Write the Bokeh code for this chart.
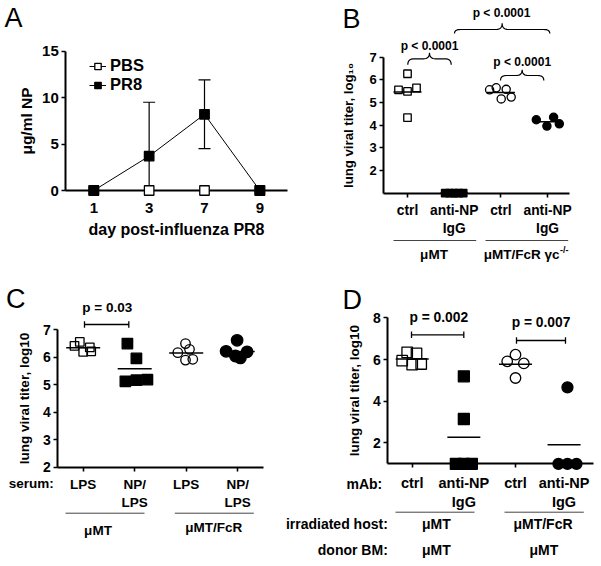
import numpy as np
from bokeh.plotting import figure
from bokeh.models import (Range1d, LinearAxis, FixedTicker, Whisker, TeeHead,
                          ColumnDataSource, Legend, LegendItem)
from bokeh.layouts import row, column
from bokeh.embed import file_html
from bokeh.resources import INLINE
from bokeh.core.properties import value

S = 1.0
FONT = "Liberation Sans"

# ---------------- data ----------------
# Panel A
A_DAYS = ["1", "3", "7", "9"]
A_PBS = [0.0, 0.0, 0.0, 0.0]
A_PR8 = [0.0, 3.7, 8.2, 0.0]
A_PR8_SD = [0.0, 5.8, 3.7, 0.0]
A_SERIES = ["PBS", "PR8"]

# Panel B  (lung viral titer, log10)
B_TICKS = ["ctrl", "anti-NP\nIgG", "ctrl", "anti-NP\nIgG"]
B_GROUPS = ["μMT", "μMT/FcR γc", "-/-"]
B_CTRL_UMT = [6.27, 5.56, 5.49, 5.65, 4.33]
B_ANTI_UMT = [1.0, 1.0, 1.0, 1.0, 1.0]
B_CTRL_FCR = [5.56, 5.65, 5.58, 5.16, 5.24]
B_ANTI_FCR = [4.24, 3.96, 4.35, 4.06]
B_PVALS = ["p < 0.0001", "p < 0.0001", "p < 0.0001"]

# Panel C
C_TICKS = ["LPS", "NP/\nLPS", "LPS", "NP/\nLPS"]
C_GROUPS = ["μMT", "μMT/FcR"]
C_LPS_UMT = [6.55, 6.41, 6.35, 6.19, 6.21]
C_NPLPS_UMT = [6.49, 5.95, 5.12, 5.16, 5.18]
C_LPS_FCR = [6.49, 6.16, 6.28, 5.89, 5.92]
C_NPLPS_FCR = [6.61, 6.21, 6.04, 6.19, 5.97]
C_PVALS = ["p = 0.03"]

# Panel D
D_TICKS = ["ctrl", "anti-NP\nIgG", "ctrl", "anti-NP\nIgG"]
D_HOST = ["μMT", "μMT/FcR"]
D_DONOR = ["μMT", "μMT"]
D_CTRL_UMT = [6.35, 6.30, 5.95, 5.76, 5.79]
D_ANTI_UMT = [5.2, 3.15, 1.0, 1.0, 1.0]
D_CTRL_FCR = [6.24, 5.92, 5.82, 5.12]
D_ANTI_FCR = [4.67, 1.0, 1.0, 1.0]
D_PVALS = ["p = 0.002", "p = 0.007"]

# ---------------- layout constants (reference pixels) ----------------
B_JIT = [[0, -9, 0, 9, 0], [-9, -4.5, 0, 4.5, 9], [-11.3, -4.7, 5.3, 0.3, 10.3], [-11.3, -0.7, 6, 11.7]]
C_JIT = [[-3.4, -8.7, 6.6, 0, 8], [-7.3, 1.7, -9.3, 1.7, 12.7], [-0.7, -8.4, 3.3, -0.7, 6.6], [-0.6, -11.6, -2.3, 9.4, 2.7]]
D_JIT = [[-5, 4.3, -10, 0, 9], [0, 0, -8, 0, 8], [0, -8.3, 8.3, 0], [3.4, -5.6, 3.4, 12.4]]


def make_panel(L, T, R, B, X0, KX, Y0, KY, y0):
    w = int(round((R - L) * S))
    h = int(round((B - T) * S))

    def fx(px):
        return (px - X0) / KX

    def fy(py):
        return y0 - (py - Y0) / KY

    p = figure(width=w, height=h, x_range=Range1d(fx(L), fx(R)), y_range=Range1d(fy(B), fy(T)),
               x_axis_type=None, y_axis_type=None, toolbar_location=None, title=None,
               output_backend="svg", min_border=0, outline_line_color=None,
               background_fill_color="white", border_fill_color="white")
    return p, fx, fy


def style(ax, tick_fs, standoff, title_fs=None, title_standoff=0):
    ax.axis_line_color = "black"
    ax.axis_line_width = 2.0 * S
    ax.major_tick_line_color = "black"
    ax.major_tick_line_width = 1.6 * S
    ax.major_tick_in = 0
    ax.major_tick_out = 4
    ax.minor_tick_line_color = None
    ax.major_label_text_font = FONT
    ax.major_label_text_font_style = "bold"
    ax.major_label_text_color = "black"
    ax.major_label_text_font_size = f"{tick_fs * S:.1f}px"
    ax.major_label_standoff = standoff
    ax.axis_label_text_font = FONT
    ax.axis_label_text_font_style = "bold"
    ax.axis_label_text_color = "black"
    if title_fs:
        ax.axis_label_text_font_size = f"{title_fs * S:.1f}px"
        ax.axis_label_standoff = title_standoff


def add_axes(p, fx, x_at, x_px, xpos, xlabels, x_fs, x_so, y_px, ybounds, yticks, y_fs, y_so,
             x_title=None, x_title_fs=None, x_title_so=0, y_title=None, y_title_fs=None, y_title_so=0):
    xa = LinearAxis(fixed_location=x_at, bounds=(fx(x_px[0]), fx(x_px[1])),
                    ticker=FixedTicker(ticks=list(xpos)),
                    major_label_overrides={float(t): l for t, l in zip(xpos, xlabels)})
    if x_title:
        xa.axis_label = x_title
    style(xa, x_fs, x_so, x_title_fs, x_title_so)
    p.add_layout(xa, "below")
    ya = LinearAxis(fixed_location=fx(y_px), bounds=ybounds, ticker=FixedTicker(ticks=list(yticks)))
    if y_title:
        ya.axis_label = y_title
    style(ya, y_fs, y_so, y_title_fs, y_title_so)
    p.add_layout(ya, "left")


def put_text(p, fx, fy, pxs, pys, texts, size, align="center", bold=True, baseline="middle"):
    p.text(x=[fx(v) for v in pxs], y=[fy(v) for v in pys], text=list(texts),
           text_font=value(FONT), text_font_size=f"{size * S:.1f}px",
           text_font_style="bold" if bold else "normal", text_align=align,
           text_baseline=baseline, text_color="black")


def draw_groups(p, pos, groups, jits, markers, fills, sizes, KX, half_px):
    for x, vals, jit, mk, filled, sz in zip(pos, groups, jits, markers, fills, sizes):
        m = float(np.mean(vals))
        p.segment(x0=[x - half_px / KX], y0=[m], x1=[x + half_px / KX], y1=[m],
                  line_color="black", line_width=1.5 * S)
        p.scatter([x + j / KX for j in jit], vals, marker=mk, size=sz * S,
                  fill_color="black" if filled else None, line_color="black",
                  line_width=1.3 * S, level="overlay")


def group_lines(p, fx, fy, py, spans):
    p.segment(x0=[fx(a) for a, b in spans], y0=[fy(py)] * len(spans),
              x1=[fx(b) for a, b in spans], y1=[fy(py)] * len(spans),
              line_color="#444444", line_width=1.0 * S)


def tee_bracket(p, fx, fy, x0, x1, py, tick=3.2):
    p.segment(x0=[fx(x0), fx(x0), fx(x1)], y0=[fy(py), fy(py - tick), fy(py - tick)],
              x1=[fx(x1), fx(x0), fx(x1)], y1=[fy(py), fy(py + tick), fy(py + tick)],
              line_color="black", line_width=1.3 * S)


def brace(p, fx, fy, x0, x1, ye, ym, yt, r=6.0):
    xm = (x0 + x1) / 2.0
    t = np.linspace(0, 1, 10)

    def qb(a, b, c):
        return ((1 - t) ** 2 * a[0] + 2 * (1 - t) * t * b[0] + t ** 2 * c[0],
                (1 - t) ** 2 * a[1] + 2 * (1 - t) * t * b[1] + t ** 2 * c[1])

    segs = [qb((x0, ye), (x0, ym), (x0 + r, ym)), qb((xm - r, ym), (xm, ym), (xm, yt)),
            qb((xm, yt), (xm, ym), (xm + r, ym)), qb((x1 - r, ym), (x1, ym), (x1, ye))]
    xs = np.concatenate([s[0] for s in segs])
    ys = np.concatenate([s[1] for s in segs])
    p.line([fx(v) for v in xs], [fy(v) for v in ys], line_color="black", line_width=1.2 * S)


# ================= Panel A =================
pA, fxA, fyA = make_panel(0, 0, 300, 282, 93.3, 55.35, 190.0, 9.29, 0.0)
xA = list(range(len(A_DAYS)))
add_axes(pA, fxA, 0.0, (65.3, 286.7), xA, A_DAYS, 15, 8, 65.3, (0, 15), [0, 5, 10, 15], 15, 3,
         x_title="day post-influenza PR8", x_title_fs=16, x_title_so=5,
         y_title="μg/ml NP", y_title_fs=15.5, y_title_so=4)
up = [m + s for m, s in zip(A_PR8, A_PR8_SD)]
lo = [max(m - s, 0.0) for m, s in zip(A_PR8, A_PR8_SD)]
keep = [i for i, s in enumerate(A_PR8_SD) if s > 0]
wsrc = ColumnDataSource(dict(x=[xA[i] for i in keep], up=[up[i] for i in keep], lo=[lo[i] for i in keep]))
pA.add_layout(Whisker(base="x", upper="up", lower="lo", source=wsrc, dimension="height",
                      line_color="black", line_width=1.2 * S,
                      upper_head=TeeHead(size=12 * S, line_width=1.2 * S, line_color="black"),
                      lower_head=TeeHead(size=12 * S, line_width=1.2 * S, line_color="black")))
l_pbs = pA.line(xA, A_PBS, line_color="black", line_width=1.0 * S)
l_pr8 = pA.line(xA, A_PR8, line_color="black", line_width=1.0 * S)
m_pbs = pA.scatter(xA, A_PBS, marker="square", size=9.5 * S, fill_color="white",
                   line_color="black", line_width=1.3 * S, level="overlay")
m_pr8 = pA.scatter(xA, A_PR8, marker="square", size=9.5 * S, fill_color="black",
                   line_color="black", line_width=1.3 * S, level="overlay")
legA = Legend(items=[LegendItem(label=A_SERIES[0], renderers=[l_pbs, m_pbs]),
                     LegendItem(label=A_SERIES[1], renderers=[l_pr8, m_pr8])],
              location=(int(89 * S), int((282 - 94) * S)), padding=0, margin=0, spacing=0,
              glyph_width=int(17 * S), glyph_height=int(16 * S), label_height=int(16 * S),
              label_standoff=4, border_line_color=None, background_fill_alpha=0,
              label_text_font=FONT, label_text_font_style="bold", label_text_color="black",
              label_text_font_size=f"{16.5 * S:.1f}px")
pA.add_layout(legA)
put_text(pA, fxA, fyA, [4], [17], ["A"], 27, align="left", bold=False)

# ================= Panel B =================
pB, fxB, fyB = make_panel(300, 0, 601, 282, 407.0, 46.7, 192.7, 22.67, 1.0)
xB = [0, 1, 2, 3]
add_axes(pB, fxB, 1.0, (383.3, 569.0), xB, B_TICKS, 13.8, 6, 383.3, (1, 7), [2, 3, 4, 5, 6, 7], 13, 3,
         y_title="lung viral titer, log₁₀", y_title_fs=13.2, y_title_so=10)
draw_groups(pB, xB, [B_CTRL_UMT, B_ANTI_UMT, B_CTRL_FCR, B_ANTI_FCR], B_JIT,
            ["square", "square", "circle", "circle"], [False, True, False, True],
            [7.5, 7.5, 8.2, 8.2], 46.7, 14)
brace(pB, fxB, fyB, 407.3, 450.7, 64.3, 58.3, 52.3)
brace(pB, fxB, fyB, 500.0, 543.3, 80.0, 75.0, 69.3)
brace(pB, fxB, fyB, 454.0, 549.3, 33.0, 29.0, 22.7)
put_text(pB, fxB, fyB, [429, 521.7, 501], [45, 61, 12.3], B_PVALS, 12)
group_lines(pB, fxB, fyB, 240, [(393, 475.7), (485, 567.7)])
put_text(pB, fxB, fyB, [433.5], [254], [B_GROUPS[0]], 13.5)
put_text(pB, fxB, fyB, [559], [254], [B_GROUPS[1]], 13.5, align="right")
put_text(pB, fxB, fyB, [559.5], [249], [B_GROUPS[2]], 9, align="left")
put_text(pB, fxB, fyB, [342], [18], ["B"], 27, align="left", bold=False)

# ================= Panel C =================
pC, fxC, fyC = make_panel(0, 282, 270, 566, 82.7, 51.5, 466.7, 27.53, 2.0)
xC = [0, 1, 2, 3]
add_axes(pC, fxC, 2.0, (57.3, 263.3), xC, C_TICKS, 13.5, 6, 57.3, (2, 7), [2, 3, 4, 5, 6, 7], 14, 3,
         y_title="lung viral titer, log10", y_title_fs=13.5, y_title_so=8)
draw_groups(pC, xC, [C_LPS_UMT, C_NPLPS_UMT, C_LPS_FCR, C_NPLPS_FCR], C_JIT,
            ["square", "square", "circle", "circle"], [False, True, False, True],
            [8.5, 10.5, 9.5, 11.5], 51.5, 17)
tee_bracket(pC, fxC, fyC, 84, 128.3, 324)
put_text(pC, fxC, fyC, [106.7], [307.3], C_PVALS, 13.5)
group_lines(pC, fxC, fyC, 512.7, [(65, 144), (174.3, 253.3)])
put_text(pC, fxC, fyC, [97.5, 213.3], [530, 526.5], C_GROUPS, 13.5)
put_text(pC, fxC, fyC, [8.3], [483.3], ["serum:"], 13.5, align="left")
put_text(pC, fxC, fyC, [5.5], [298], ["C"], 27, align="left", bold=False)

# ================= Panel D =================
pD, fxD, fyD = make_panel(270, 282, 601, 566, 411.7, 51.65, 463.3, 20.83, 1.0)
xD = [0, 1, 2, 2.94]
add_axes(pD, fxD, 1.0, (387.3, 592.7), xD, D_TICKS, 14.5, 7, 387.3, (1, 8), [2, 4, 6, 8], 14, 3,
         y_title="lung viral titer, log10", y_title_fs=13.5, y_title_so=8)
draw_groups(pD, xD, [D_CTRL_UMT, D_ANTI_UMT, D_CTRL_FCR, D_ANTI_FCR], D_JIT,
            ["square", "square", "circle", "circle"], [False, True, False, True],
            [10.5, 11, 10.5, 11], 51.65, 16.5)
tee_bracket(pD, fxD, fyD, 411, 463.3, 334.3)
tee_bracket(pD, fxD, fyD, 516, 565, 340)
put_text(pD, fxD, fyD, [438.3, 540.5], [316.7, 322.3], D_PVALS, 13.8)
group_lines(pD, fxD, fyD, 511.7, [(395, 474), (504, 583.3)])
put_text(pD, fxD, fyD, [381.7], [483.3], ["mAb:"], 14, align="right")
put_text(pD, fxD, fyD, [387.3], [523.3], ["irradiated host:"], 14, align="right")
put_text(pD, fxD, fyD, [387.3], [549.3], ["donor BM:"], 14, align="right")
put_text(pD, fxD, fyD, [435.8, 542.5], [523.3, 523.3], D_HOST, 14)
put_text(pD, fxD, fyD, [435.8, 543.3], [549.3, 549.3], D_DONOR, 14)
put_text(pD, fxD, fyD, [342], [299], ["D"], 27, align="left", bold=False)

layout = column(row(pA, pB), row(pC, pD))
open("out.html", "w").write(file_html(layout, INLINE))
